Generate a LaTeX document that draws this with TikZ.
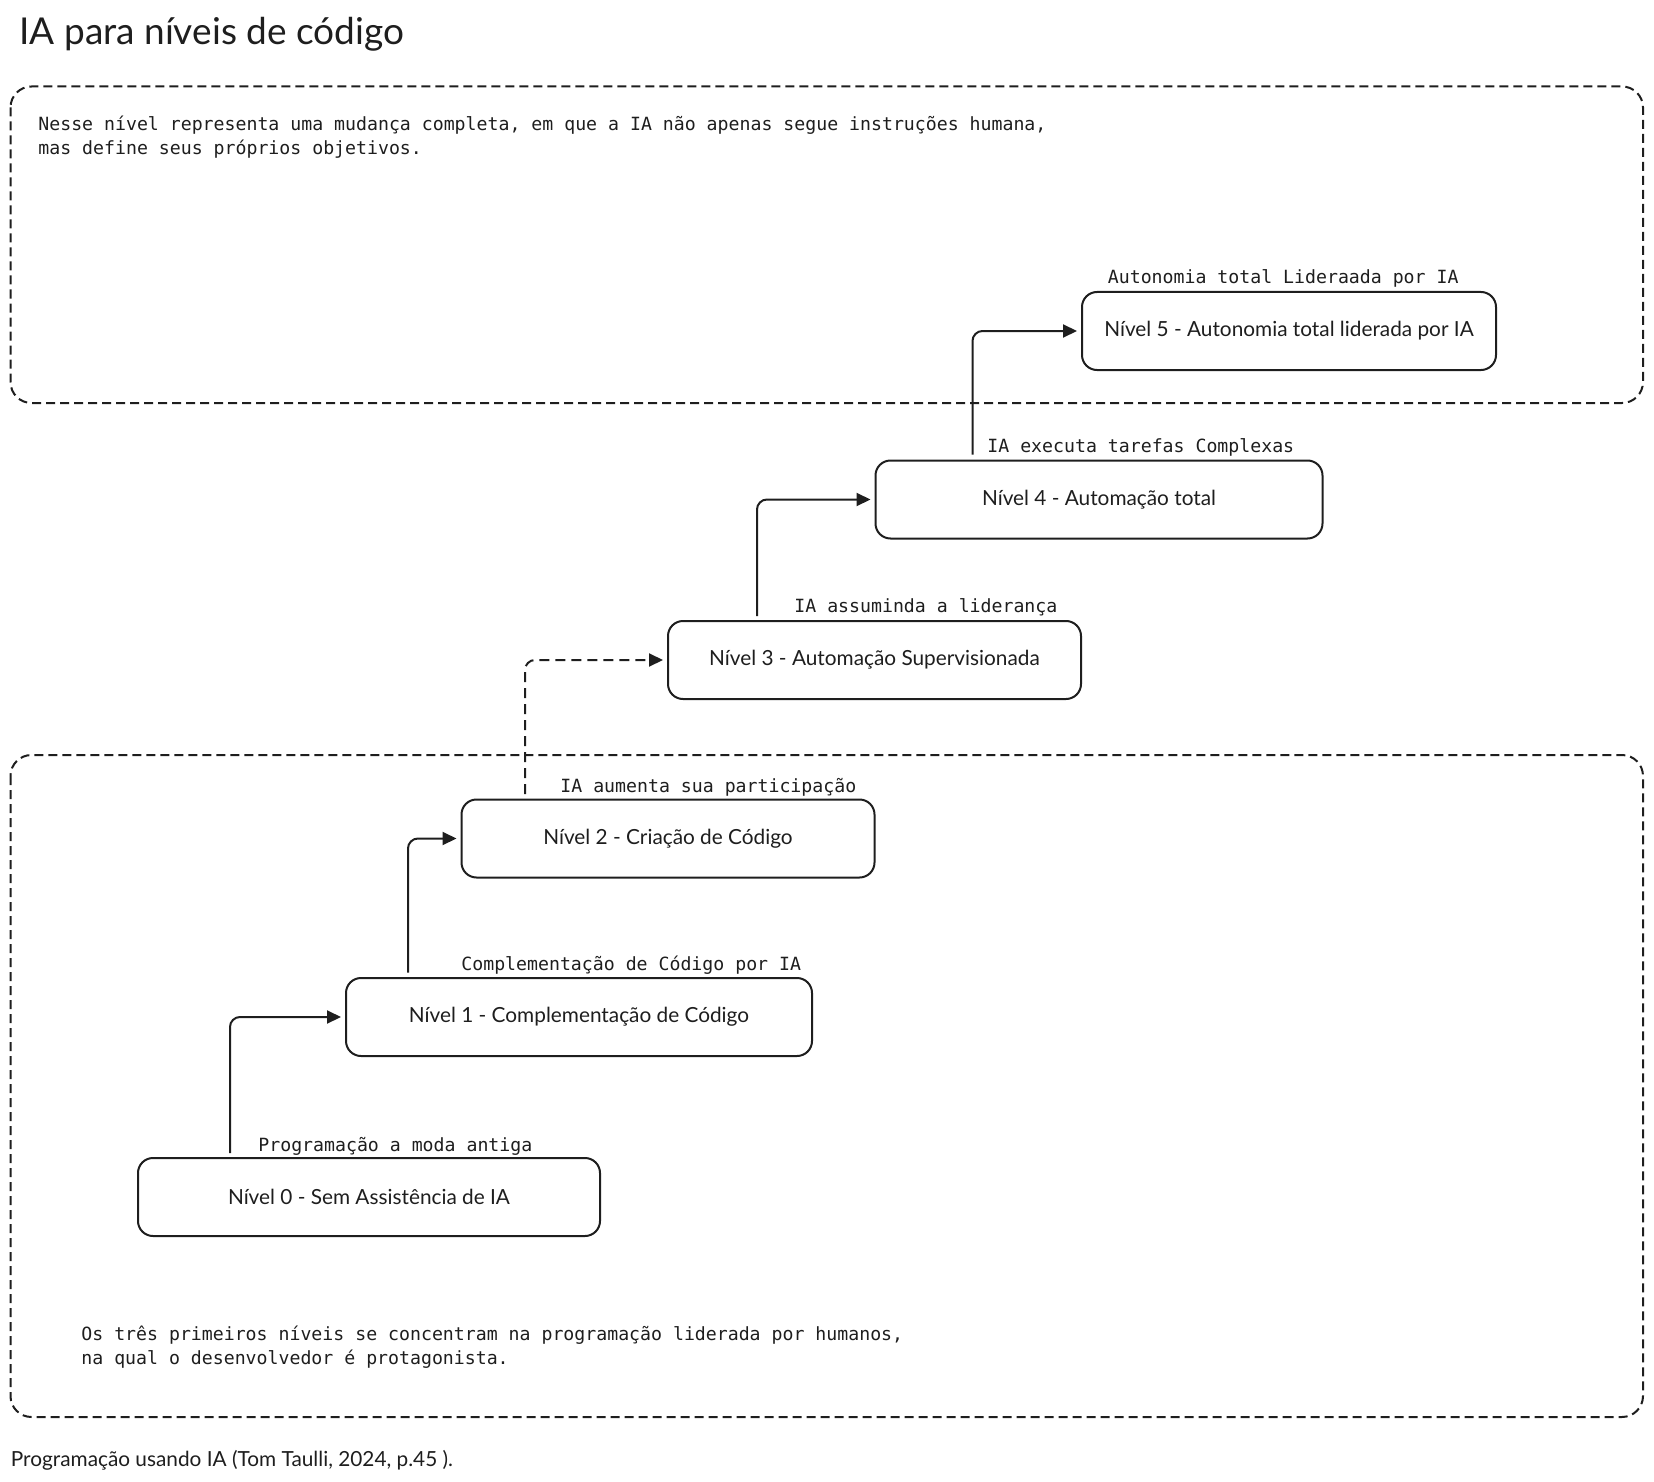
\documentclass[tikz,border=0pt]{standalone}
\usepackage{fontspec}
\setmainfont{Lato}
\setmonofont{DejaVu Sans Mono}
\usetikzlibrary{arrows.meta,positioning,calc}

\definecolor{ink}{HTML}{1E1E1E}

\begin{document}
\begin{tikzpicture}[x=0.5pt,y=-0.5pt,
  lvl/.style={draw=ink,line width=1pt,rounded corners=7.5pt,minimum height=39pt,font=\fontsize{10.4}{12}\selectfont,text=ink},
  lbl/.style={font=\ttfamily\fontsize{9.1}{12}\selectfont,text=ink,anchor=base west,inner sep=0pt},
  note/.style={font=\ttfamily\fontsize{9.1}{12}\selectfont,text=ink,anchor=west,inner sep=0pt,align=left},
  grp/.style={draw=ink,line width=1pt,dash pattern=on 4.5pt off 2.5pt,rounded corners=10.5pt},
  lnk/.style={-{Triangle[length=7pt,width=6.5pt]},draw=ink,line width=1pt,rounded corners=5pt,shorten >=2pt}]
  \useasboundingbox (0,0) rectangle (1654,1482);

  \node[anchor=base west,inner sep=0pt,font=\fontsize{18.5}{22}\selectfont,text=ink] (title) at (19,45) {IA para níveis de código};

  % group frames
  \draw[grp] (10.5,86.5) rectangle (1643,403);
  \draw[grp] (10.5,755) rectangle (1643,1417);

  \node[note] (topnote) at (38,137) {Nesse nível representa uma mudança completa, em que a IA não apenas segue instruções humana,\\mas define seus próprios objetivos.};
  \node[note] (botnote) at (81,1347) {Os três primeiros níveis se concentram na programação liderada por humanos,\\na qual o desenvolvedor é protagonista.};

  % levels
  \node[lvl,minimum width=231pt] (n0) at (369,1197) {Nível 0 - Sem Assistência de IA};
  \node[lvl,minimum width=233pt] (n1) at (579,1017) {Nível 1 - Complementação de Código};
  \node[lvl,minimum width=206.5pt] (n2) at (668,838.5) {Nível 2 - Criação de Código};
  \node[lvl,minimum width=206.5pt] (n3) at (874.5,660) {Nível 3 - Automação Supervisionada};
  \node[lvl,minimum width=223.5pt] (n4) at (1099,499.5) {Nível 4 - Automação total};
  \node[lvl,minimum width=207pt] (n5) at (1289,331) {Nível 5 - Autonomia total liderada por IA};

  \node[lbl] (l0) at (258,1151) {Programação a moda antiga};
  \node[lbl] (l1) at (461,970) {Complementação de Código por IA};
  \node[lbl] (l2) at (560,792) {IA aumenta sua participação};
  \node[lbl] (l3) at (794,612) {IA assuminda a liderança};
  \node[lbl] (l4) at (987,452) {IA executa tarefas Complexas};
  \node[lbl] (l5) at (1107.5,284) {Autonomia total Lideraada por IA};

  % steps
  \coordinate (s0) at (230,1153);
  \coordinate (s1) at (408,972.5);
  \coordinate (s2) at (525,794);
  \coordinate (s3) at (757,616);
  \coordinate (s4) at (972.5,454.5);
  \draw[lnk] (s0) |- (n1);
  \draw[lnk] (s1) |- (n2);
  \draw[lnk,dash pattern=on 5pt off 3pt] (s2) |- (n3);
  \draw[lnk] (s3) |- (n4);
  \draw[lnk] (s4) |- (n5);

  \node[anchor=west,inner sep=0pt,font=\fontsize{10.4}{12}\selectfont,text=ink] (src) at (10.5,1460) {Programação usando IA (Tom Taulli, 2024, p.45 ).};
\end{tikzpicture}
\end{document}
